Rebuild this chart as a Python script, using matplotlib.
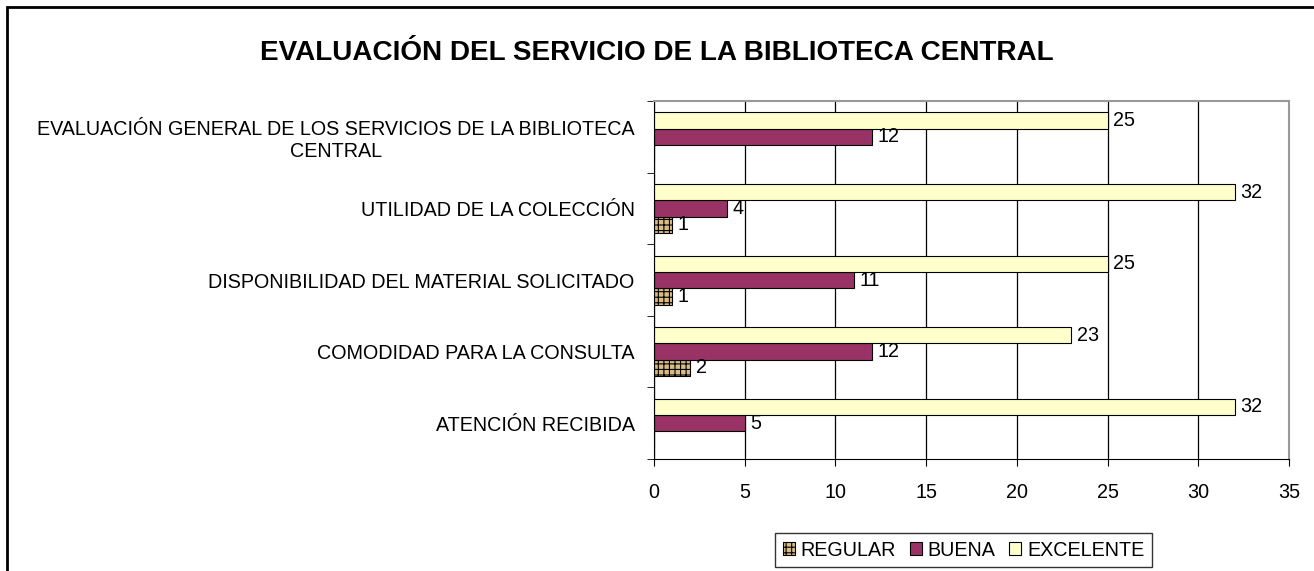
import numpy as np
import matplotlib.pyplot as plt
from matplotlib.patches import Rectangle

plt.rcParams['font.family'] = ['Liberation Sans', 'DejaVu Sans']
plt.rcParams['hatch.color'] = '#7a5a2a'
plt.rcParams['hatch.linewidth'] = 0.8

categories = [
    "ATENCIÓN RECIBIDA",
    "COMODIDAD PARA LA CONSULTA",
    "DISPONIBILIDAD DEL MATERIAL SOLICITADO",
    "UTILIDAD DE LA COLECCIÓN",
    "EVALUACIÓN GENERAL DE LOS SERVICIOS DE LA BIBLIOTECA\nCENTRAL",
]
regular = [0, 2, 1, 1, 0]
buena = [5, 12, 11, 4, 12]
excelente = [32, 23, 25, 32, 25]

fs = 14.2

fig = plt.figure(figsize=(13.14, 5.71), dpi=100)
ax = fig.add_axes([0.4977, 0.1961, 0.4833, 0.6270])

y = np.arange(len(categories))
h = 0.228

b_reg = ax.barh(y - h, regular, height=h, color='#d8bc84', hatch='+++',
                edgecolor='black', linewidth=0.8, label='REGULAR')
b_bue = ax.barh(y, buena, height=h, color='#993366',
                edgecolor='black', linewidth=0.8, label='BUENA')
b_exc = ax.barh(y + h, excelente, height=h, color='#ffffcc',
                edgecolor='black', linewidth=0.8, label='EXCELENTE')

# data labels (Excel skips the zeros)
for bars, vals in [(b_reg, regular), (b_bue, buena), (b_exc, excelente)]:
    for bar, v in zip(bars, vals):
        if v == 0:
            continue
        ax.annotate(str(v), (v, bar.get_y() + bar.get_height() / 2),
                    xytext=(4, 0), textcoords='offset points',
                    va='center', ha='left', fontsize=fs)

ax.set_xlim(0, 35)
ax.set_ylim(-0.5, len(categories) - 0.5)
ax.set_xticks(np.arange(0, 36, 5))
ax.tick_params(axis='x', labelsize=fs, pad=12, direction='out', length=5)

ax.set_yticks(y)
ax.set_yticklabels(categories, fontsize=fs, multialignment='center')
ax.tick_params(axis='y', which='major', length=0, pad=14)
ax.set_yticks(np.arange(-0.5, len(categories), 1), minor=True)
ax.tick_params(axis='y', which='minor', length=5, direction='out')

ax.grid(axis='x', color='black', linewidth=0.9)
ax.set_axisbelow(True)
ax.spines['top'].set_color('#999999')
ax.spines['right'].set_color('#999999')
ax.spines['top'].set_linewidth(1.5)
ax.spines['right'].set_linewidth(1.5)

fig.text(0.5, 0.907, "EVALUACIÓN DEL SERVICIO DE LA BIBLIOTECA CENTRAL",
         ha='center', va='center', fontsize=20.1, fontweight='bold')

leg = fig.legend(loc='center', bbox_to_anchor=(0.7333, 0.0367), ncol=3,
                 fontsize=fs, frameon=True, fancybox=False, edgecolor='black',
                 handlelength=0.6, handleheight=0.6, handletextpad=0.3,
                 columnspacing=0.7, borderpad=0.4)
leg.get_frame().set_linewidth(1.0)

fig.add_artist(Rectangle((7 / 1314, -0.1), 1.2, 1.1 - 7 / 571,
                         transform=fig.transFigure, fill=False,
                         edgecolor='black', linewidth=2.0))

fig.savefig('out.png', dpi=100)
